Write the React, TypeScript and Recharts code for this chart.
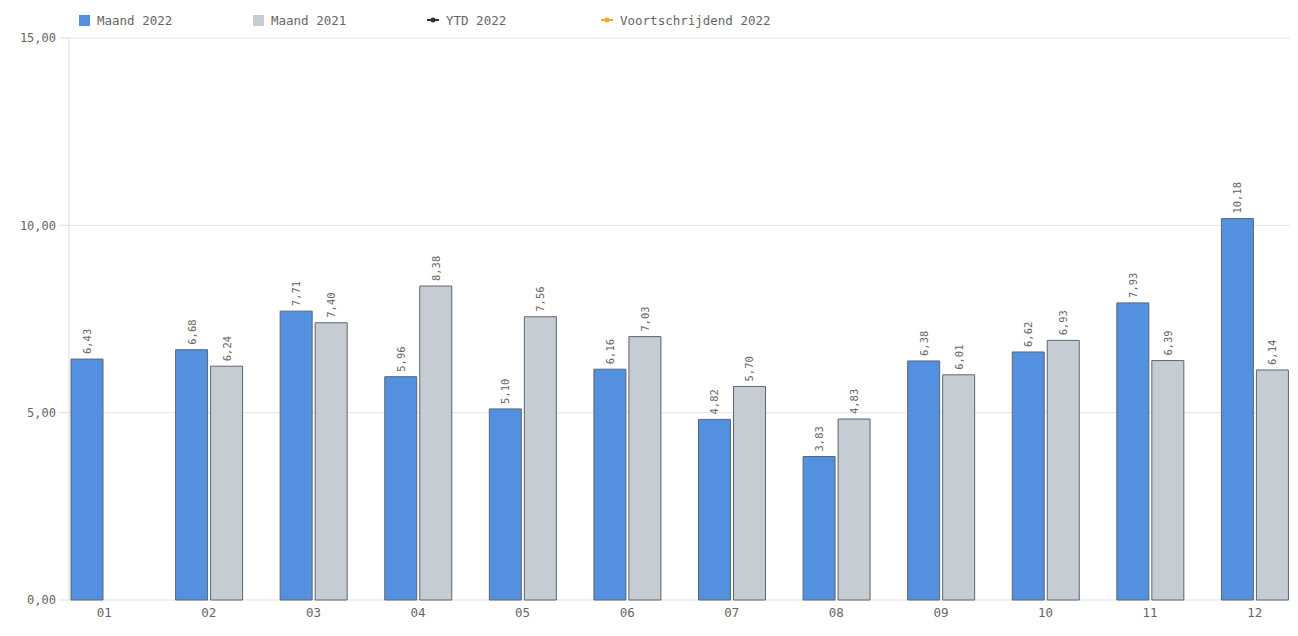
import React from 'react';
import { Bar, CartesianGrid, ComposedChart, LabelList, Legend, Line, XAxis, YAxis } from 'recharts';

const months = ['01', '02', '03', '04', '05', '06', '07', '08', '09', '10', '11', '12'];
const maand2022 = [6.43, 6.68, 7.71, 5.96, 5.1, 6.16, 4.82, 3.83, 6.38, 6.62, 7.93, 10.18];
const maand2021: (number | null)[] = [null, 6.24, 7.4, 8.38, 7.56, 7.03, 5.7, 4.83, 6.01, 6.93, 6.39, 6.14];
const ytd2022: (number | null)[] = [null, null, null, null, null, null, null, null, null, null, null, null];
const voortschrijdend2022: (number | null)[] = [null, null, null, null, null, null, null, null, null, null, null, null];
const yTicks = [0, 5, 10, 15];

const chartData = months.map((m, i) => ({
  month: m,
  m2022: maand2022[i],
  m2021: maand2021[i],
  ytd: ytd2022[i],
  voort: voortschrijdend2022[i],
}));

const FONT = '"DejaVu Sans Mono", monospace';
const TEXT = '#666666';
const BLUE = '#5390e0';
const GREY = '#c5ccd4';
const EDGE = '#5c6670';

const fmt = (v: number) => v.toFixed(2).replace('.', ',');

function BarValue(props: any) {
  const { x, y, width, value } = props;
  if (value == null) return null;
  const cx = x + width / 2;
  const cy = y - 5;
  return (
    <text
      x={cx}
      y={cy}
      transform={`rotate(-90, ${cx}, ${cy})`}
      textAnchor="start"
      dominantBaseline="central"
      fontSize={10.5}
      fontFamily={FONT}
      fill={TEXT}
    >
      {fmt(value)}
    </text>
  );
}

const legendItems = [
  { label: 'Maand 2022', color: BLUE, kind: 'square' },
  { label: 'Maand 2021', color: GREY, kind: 'square' },
  { label: 'YTD 2022', color: '#333333', kind: 'line' },
  { label: 'Voortschrijdend 2022', color: '#f5a623', kind: 'line' },
];

function ChartLegend() {
  return (
    <div style={{ display: 'flex', height: 30, paddingLeft: 79, fontFamily: FONT, fontSize: 12.5, color: TEXT }}>
      {legendItems.map((it) => (
        <div key={it.label} style={{ width: 174, display: 'flex', alignItems: 'center', height: 24 }}>
          {it.kind === 'square' ? (
            <span style={{ width: 11, height: 11, background: it.color, marginRight: 7, display: 'inline-block' }} />
          ) : (
            <svg width={12} height={8} style={{ marginRight: 7 }}>
              <line x1={0} y1={4} x2={12} y2={4} stroke={it.color} strokeWidth={2} />
              <circle cx={6} cy={4} r={2.5} fill={it.color} />
            </svg>
          )}
          <span>{it.label}</span>
        </div>
      ))}
    </div>
  );
}

export default function App() {
  return (
    <div style={{ position: 'absolute', left: 0, top: 0, width: 1298, height: 636, background: '#fff' }}>
      <ComposedChart
        width={1298}
        height={636}
        data={chartData}
        margin={{ top: 8, right: 8, left: 0, bottom: 6 }}
        barSize={32}
        barGap={3}
      >
        <Legend verticalAlign="top" align="left" content={() => <ChartLegend />} wrapperStyle={{ left: 0, top: 8 }} />
        <CartesianGrid vertical={false} stroke="#e3e3e3" />
        <XAxis
          dataKey="month"
          padding={{ left: -17, right: -17 }}
          axisLine={false}
          tickLine={false}
          height={30}
          tick={{ fontSize: 12.5, fontFamily: FONT, fill: TEXT }}
        />
        <YAxis
          width={69}
          domain={[0, 15]}
          ticks={yTicks}
          tickFormatter={fmt}
          axisLine={{ stroke: '#dddddd' }}
          tickLine={{ stroke: '#dddddd' }}
          tickSize={10}
          tickMargin={3}
          tick={{ fontSize: 12, fontFamily: FONT, fill: TEXT }}
        />
        <Bar dataKey="m2022" name="Maand 2022" fill={BLUE} stroke={EDGE} strokeWidth={1} isAnimationActive={false}>
          <LabelList dataKey="m2022" content={BarValue} />
        </Bar>
        <Bar dataKey="m2021" name="Maand 2021" fill={GREY} stroke={EDGE} strokeWidth={1} isAnimationActive={false}>
          <LabelList dataKey="m2021" content={BarValue} />
        </Bar>
        <Line dataKey="ytd" name="YTD 2022" stroke="#333333" dot={false} isAnimationActive={false} />
        <Line dataKey="voort" name="Voortschrijdend 2022" stroke="#f5a623" dot={false} isAnimationActive={false} />
      </ComposedChart>
    </div>
  );
}
